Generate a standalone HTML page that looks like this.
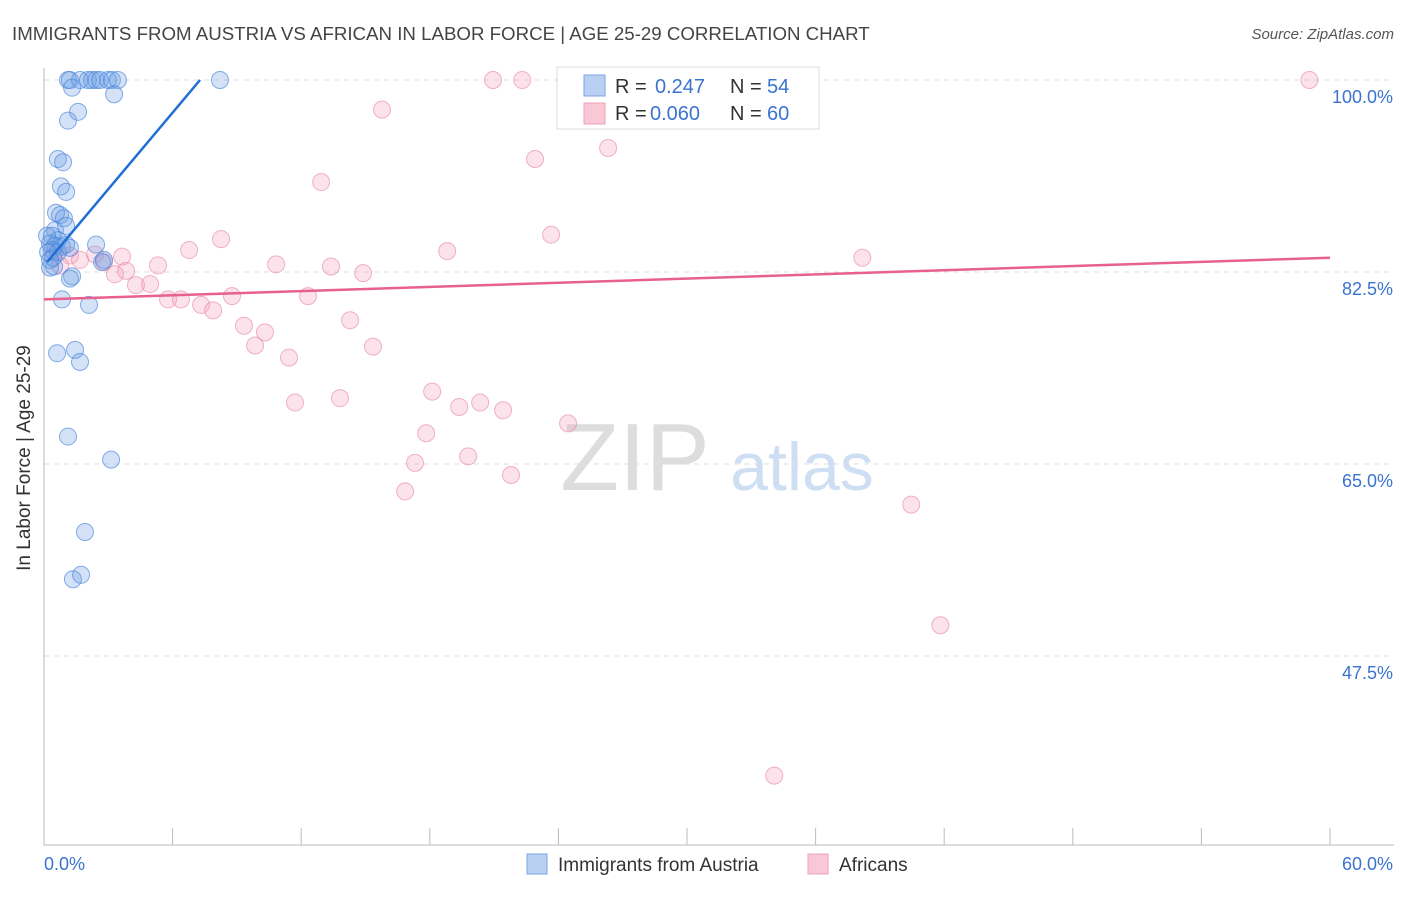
<!DOCTYPE html>
<html><head><meta charset="utf-8"><style>
body{margin:0;background:#fff;font-family:"Liberation Sans",sans-serif}
svg text{font-family:"Liberation Sans",sans-serif}
</style></head><body>
<svg id="chart" width="1406" height="892">
<text x="12" y="40" font-size="18.7" fill="#444">IMMIGRANTS FROM AUSTRIA VS AFRICAN IN LABOR FORCE | AGE 25-29 CORRELATION CHART</text>
<text x="1394" y="39" font-size="15" fill="#555" font-style="italic" text-anchor="end">Source: ZipAtlas.com</text>
<text x="635" y="490" font-size="96" fill="#ddd" font-family="Liberation Serif" text-anchor="middle">ZIP</text>
<text x="802" y="490" font-size="68" fill="#cfdff3" text-anchor="middle">atlas</text>
<g id="grid"></g>
<g id="axes"></g>
<g id="points"></g>
<g id="lines"></g>
<text x="30" y="458" font-size="19" fill="#333" text-anchor="middle" transform="rotate(-90 30 458)">In Labor Force | Age 25-29</text>
<g>
<rect x="557" y="67" width="262" height="62" fill="#fff" stroke="#ddd"/>
<rect x="584" y="75" width="21" height="21" fill="#b9d0f3" stroke="#7ca3e3"/>
<rect x="584" y="103" width="21" height="21" fill="#f9c7d6" stroke="#eea0bb"/>
<text x="615" y="93" font-size="20" fill="#333">R = </text><text x="655" y="93" font-size="20" fill="#3a73d0">0.247</text>
<text x="730" y="93" font-size="20" fill="#333">N = </text><text x="767" y="93" font-size="20" fill="#3a73d0">54</text>
<text x="615" y="120" font-size="20" fill="#333">R = </text><text x="650" y="120" font-size="20" fill="#3a73d0">0.060</text>
<text x="730" y="120" font-size="20" fill="#333">N = </text><text x="767" y="120" font-size="20" fill="#3a73d0">60</text>
</g>
<g>
<rect x="527" y="854" width="20" height="20" fill="#b9d0f3" stroke="#7ca3e3"/>
<text x="558" y="871" font-size="19" fill="#333">Immigrants from Austria</text></g>
<g>
<rect x="808" y="854" width="20" height="20" fill="#f9c7d6" stroke="#eea0bb"/>
<text x="839" y="871" font-size="19" fill="#333">Africans</text></g>
</svg>
<script>
const yTicks=[100,82.5,65,47.5];
const yTickLabels=["100.0%","82.5%","65.0%","47.5%"];
const xTicks=[0,6,12,18,24,30,36,42,48,54,60];
const xLabels=["0.0%","60.0%"];
const blueX=[1.12,1.21,1.68,2.05,2.24,2.43,2.61,2.99,3.17,3.45,1.31,3.27,8.21,1.12,1.59,0.65,0.89,0.79,1.03,0.56,0.75,0.93,0.51,0.37,0.65,1.03,0.28,0.51,0.37,0.84,2.43,0.28,0.47,1.31,1.21,2.71,0.84,2.10,0.61,1.45,1.68,1.12,3.13,1.91,1.35,1.73,2.80,0.19,0.42,0.14,1.03,0.65,0.28,1.21];
const blueY=[100,100,100,100,100,100,100,100,100,100,99.3,98.7,100,96.3,97.1,92.8,92.5,90.3,89.8,87.9,87.7,87.4,86.3,85.8,85.4,86.7,85.1,84.9,84.5,84.8,85.0,82.9,83.0,82.1,81.9,83.4,80.0,79.5,75.1,75.4,74.3,67.5,65.4,58.8,54.5,54.9,83.6,84.3,83.8,85.8,85.0,84.3,83.6,84.7];
const pinkX=[20.95,22.31,25.67,29.5,31.36,35.28,59.04,15.77,22.91,26.32,12.93,23.66,8.26,6.77,18.81,38.18,2.38,3.64,2.80,10.83,13.39,14.89,5.32,3.83,3.31,4.29,4.95,5.79,6.39,7.33,7.89,8.77,12.32,9.33,10.31,9.85,14.28,15.35,11.43,11.71,13.81,18.11,19.37,20.35,21.42,17.83,24.45,17.31,19.79,16.85,21.79,40.46,41.82,34.07,1.21,0.75,0.47,1.68];
const pinkY=[100,100,100,100,100,100,100,97.3,92.8,93.8,90.7,85.9,85.5,84.5,84.4,83.8,84.1,83.9,83.4,83.2,83.0,82.4,83.1,82.6,82.3,81.3,81.4,80.0,80.0,79.5,79.0,80.3,80.3,77.6,77.0,75.8,78.1,75.7,74.7,70.6,71.0,71.6,70.2,70.6,69.9,67.8,68.7,65.1,65.7,62.5,64.0,61.3,50.3,36.6,84.0,83.1,84.3,83.6];
const blueLine=[[0.14,83.4],[7.28,100]];
const pinkLine=[[0,80.0],[60,83.8]];
const X=v=>44+v*(1286/60), Y=v=>80+(100-v)*(192/17.5);
const NS="http://www.w3.org/2000/svg";
function mk(t,a,p){const e=document.createElementNS(NS,t);for(const k in a)e.setAttribute(k,a[k]);p.appendChild(e);return e;}
const grid=document.getElementById('grid'),axes=document.getElementById('axes'),pts=document.getElementById('points'),lines=document.getElementById('lines');
yTicks.forEach((v,i)=>{
 const l=mk('line',{x1:44,x2:1394,y1:Y(v),y2:Y(v),stroke:'#ddd','stroke-dasharray':'5,5'},grid);
 
 
 const t=mk('text',{x:1393,y:Y(v)+23,'font-size':18,fill:'#3a73d0','text-anchor':'end'},axes);
 t.textContent=yTickLabels[i];
 
 
});
let a=mk('line',{x1:44,x2:44,y1:68,y2:845,stroke:'#bbb'},axes);


a=mk('line',{x1:44,x2:1394,y1:845,y2:845,stroke:'#bbb'},axes);


xTicks.forEach(v=>{const t=mk('line',{x1:X(v),x2:X(v),y1:828,y2:845,stroke:'#bbb'},axes);
 
 });
let tl=mk('text',{x:44,y:870,'font-size':18,fill:'#3a73d0'},axes);tl.textContent=xLabels[0];


tl=mk('text',{x:1393,y:870,'font-size':18,fill:'#3a73d0','text-anchor':'end'},axes);tl.textContent=xLabels[1];


pinkX.forEach((v,i)=>{const c=mk('circle',{cx:X(v),cy:Y(pinkY[i]),r:8.5,fill:'rgba(244,160,190,0.3)',stroke:'rgba(232,130,165,0.6)'},pts);
 
 });
blueX.forEach((v,i)=>{const c=mk('circle',{cx:X(v),cy:Y(blueY[i]),r:8.5,fill:'rgba(110,160,230,0.3)',stroke:'rgba(70,130,220,0.65)'},pts);
 
 });
let ln=mk('line',{x1:X(blueLine[0][0]),y1:Y(blueLine[0][1]),x2:X(blueLine[1][0]),y2:Y(blueLine[1][1]),stroke:'#1f6fd6','stroke-width':2.5},lines);


ln=mk('line',{x1:X(pinkLine[0][0]),y1:Y(pinkLine[0][1]),x2:X(pinkLine[1][0]),y2:Y(pinkLine[1][1]),stroke:'#e8608f','stroke-width':2.5},lines);


</script>
</body></html>
